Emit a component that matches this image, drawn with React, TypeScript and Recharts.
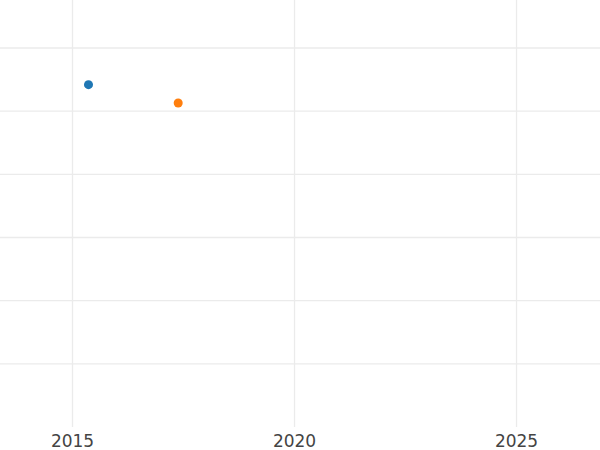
import React from "react";
import { ScatterChart, Scatter, XAxis, YAxis, ReferenceLine } from "recharts";

const xTicks = [2015, 2020, 2025];
const yTicks = [1, 2, 3, 4, 5, 6];
const seriesA = [{ x: 2015.36, y: 5.42 }];
const seriesB = [{ x: 2017.38, y: 5.13 }];

export default function App() {
  return (
    <div style={{ position: "fixed", left: 0, top: 0, width: 600, height: 450, background: "#fff" }}>
      <ScatterChart width={600} height={450} margin={{ top: 0, right: 0, bottom: 0, left: 0 }}>
        <XAxis
          type="number"
          dataKey="x"
          domain={[2013.367, 2026.88]}
          ticks={xTicks}
          allowDataOverflow
          axisLine={false}
          tickLine={false}
          height={23}
          tick={{ fill: "#444", fontSize: 17, fontFamily: "DejaVu Sans" }}
        />
        <YAxis type="number" dataKey="y" domain={[0, 6.76]} ticks={yTicks} allowDataOverflow hide />
        {yTicks.map((v) => (
          <ReferenceLine key={"y" + v} y={v} stroke="#ebebeb" strokeWidth={1.3} />
        ))}
        {xTicks.map((v) => (
          <ReferenceLine key={"x" + v} x={v} stroke="#ebebeb" strokeWidth={1.3} />
        ))}
        <Scatter data={seriesA} fill="#1f77b4" isAnimationActive={false} />
        <Scatter data={seriesB} fill="#ff7f0e" isAnimationActive={false} />
      </ScatterChart>
    </div>
  );
}
